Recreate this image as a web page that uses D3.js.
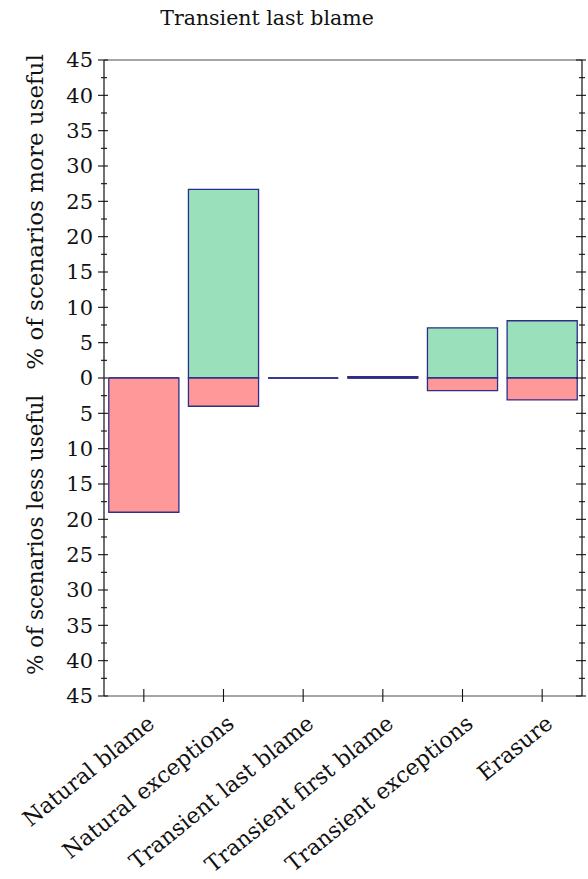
<!DOCTYPE html>
<html><head><meta charset="utf-8">
<script src="https://cdn.jsdelivr.net/npm/d3@7"></script>
<style>body{margin:0;background:#fff}svg{display:block}text{font-family:"DejaVu Serif",serif;fill:#111}</style>
</head><body>
<script>
const categories = ["Natural blame","Natural exceptions","Transient last blame","Transient first blame","Transient exceptions","Erasure"];
const moreUseful = [0, 26.7, 0, 0.2, 7.1, 8.1];
const lessUseful = [19.0, 4.0, 0, 0, 1.8, 3.1];
const yTicks = [-45,-40,-35,-30,-25,-20,-15,-10,-5,0,5,10,15,20,25,30,35,40,45];
const title = "Transient last blame";

const W=588,H=879;
const m={l:104,r:582,t:60,b:696};
const svg=d3.select("body").append("svg").attr("width",W).attr("height",H);
const x=d3.scaleBand().domain(categories).range([m.l,m.r]).paddingInner(0.12).paddingOuter(0.06);
const xc=d3.scalePoint().domain(categories).range([m.l,m.r]).padding(0.5);
const y=d3.scaleLinear().domain([-45,45]).range([m.b,m.t]);

svg.append("line").attr("x1",m.l).attr("x2",m.r).attr("y1",m.t).attr("y2",m.t).attr("stroke","#888").attr("stroke-width",1.5);
svg.append("line").attr("x1",m.l).attr("x2",m.r).attr("y1",m.b).attr("y2",m.b).attr("stroke","#888").attr("stroke-width",1.5);

const stroke="#2e2e8a";
function rectPath(x0,y0,w,h){return `M${x0},${y0}h${w}v${h}h${-w}Z`;}
svg.selectAll(".pos").data(categories).enter().append("path")
 .attr("d",(d,i)=>rectPath(x(d),y(moreUseful[i]),x.bandwidth(),y(0)-y(moreUseful[i])))
 .attr("fill","#99e0bb").attr("stroke",stroke).attr("stroke-width",1.3);
svg.selectAll(".neg").data(categories).enter().append("path")
 .attr("d",(d,i)=>rectPath(x(d),y(0),x.bandwidth(),y(-lessUseful[i])-y(0)))
 .attr("fill","#ff9999").attr("stroke",stroke).attr("stroke-width",1.3);

function yaxis(xpos){
  const g=svg.append("g");
  g.append("line").attr("x1",xpos).attr("x2",xpos).attr("y1",m.t).attr("y2",m.b).attr("stroke","#111").attr("stroke-width",1.2);
  const minors=d3.range(-45,45.1,2.5);
  g.selectAll(".mt").data(minors).enter().append("line")
   .attr("x1",d=>xpos-(d%5===0?6:3)).attr("x2",d=>xpos+(d%5===0?4:3))
   .attr("y1",d=>y(d)).attr("y2",d=>y(d)).attr("stroke","#111").attr("stroke-width",1.1);
}
yaxis(m.l);
yaxis(m.r);
svg.selectAll(".yl").data(yTicks).enter().append("text")
 .attr("x",m.l-11).attr("y",d=>y(d)).attr("dy","0.35em").attr("text-anchor","end")
 .attr("font-size",21).text(d=>Math.abs(d));

svg.selectAll(".xt").data(categories).enter().append("line")
 .attr("x1",d=>xc(d)).attr("x2",d=>xc(d)).attr("y1",m.b-7).attr("y2",m.b+6).attr("stroke","#111").attr("stroke-width",1.1);
svg.selectAll(".xl").data(categories).enter().append("text")
 .attr("transform",d=>`translate(${xc(d)+12},${m.b+30}) rotate(-39)`)
 .attr("text-anchor","end").attr("font-size",22).text(d=>d);

svg.append("text").attr("x",267).attr("y",25).attr("text-anchor","middle").attr("font-size",20.5).text(title);
svg.append("text").attr("transform",`translate(43,212) rotate(-90)`).attr("text-anchor","middle").attr("font-size",23).text("% of scenarios more useful");
svg.append("text").attr("transform",`translate(43,535) rotate(-90)`).attr("text-anchor","middle").attr("font-size",21.5).text("% of scenarios less useful");
</script>
</body></html>
